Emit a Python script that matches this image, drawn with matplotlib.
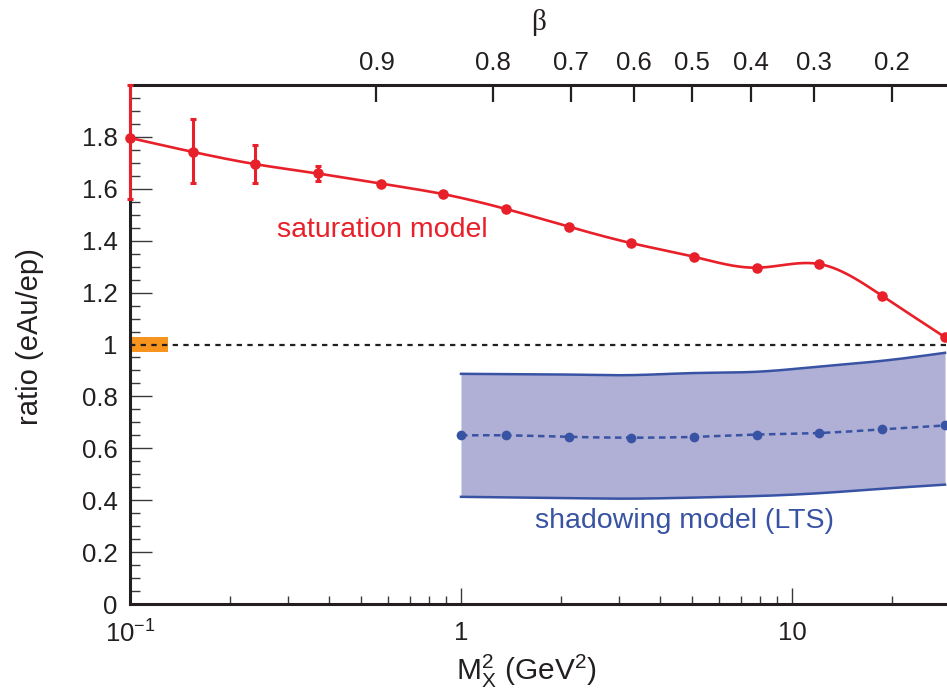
import numpy as np
import matplotlib
matplotlib.use("Agg")
import matplotlib.pyplot as plt
from matplotlib.ticker import FixedLocator, FixedFormatter, MultipleLocator, NullLocator

plt.rcParams['font.family'] = ['Liberation Sans', 'DejaVu Sans']
plt.rcParams['mathtext.fontset'] = 'custom'
plt.rcParams['mathtext.rm'] = 'Liberation Sans'
plt.rcParams['mathtext.it'] = 'Liberation Sans:italic'

# ---- data -------------------------------------------------------------
# saturation model: eAu/ep ratio vs diffractive mass M_X^2 (GeV^2)
sat_mx2 = [0.1, 0.155, 0.239, 0.369, 0.573, 0.880, 1.37, 2.12, 3.26,
           5.06, 7.84, 12.1, 18.7, 29.0]
sat_ratio = [1.796, 1.742, 1.695, 1.659, 1.620, 1.580, 1.522, 1.454, 1.391,
             1.338, 1.296, 1.310, 1.188, 1.028]
# statistical errors on the lowest-mass points
err_mx2 = [0.1, 0.155, 0.239, 0.369]
err_ratio = [1.796, 1.742, 1.695, 1.659]
err_lo = [0.234, 0.120, 0.073, 0.028]
err_hi = [0.204, 0.126, 0.074, 0.027]

# shadowing model (LTS): central values and band
lts_mx2 = [1.0, 1.37, 2.12, 3.26, 5.06, 7.84, 12.1, 18.7, 29.0]
lts_ratio = [0.650, 0.650, 0.644, 0.641, 0.644, 0.653, 0.659, 0.673, 0.688]
lts_upper = [0.887, 0.886, 0.884, 0.882, 0.890, 0.895, 0.915, 0.937, 0.968]
lts_lower = [0.413, 0.411, 0.408, 0.406, 0.410, 0.416, 0.427, 0.444, 0.460]

# normalisation uncertainty box at ratio = 1
norm_x = [0.1, 0.13]
norm_y = [0.97, 1.03]

# top axis: beta = Q^2 / (Q^2 + M_X^2)
Q2 = 5.0
beta_ticks = [0.9, 0.8, 0.7, 0.6, 0.5, 0.4, 0.3, 0.2]
beta_labels = ['0.9', '0.8', '0.7', '0.6', '0.5', '0.4', '0.3', '0.2']

x_ticks = [0.1, 1, 10]
x_ticklabels = [r'$10^{-1}$', '1', '10']
y_ticks = [0, 0.2, 0.4, 0.6, 0.8, 1.0, 1.2, 1.4, 1.6, 1.8]
y_ticklabels = ['0', '0.2', '0.4', '0.6', '0.8', '1', '1.2', '1.4', '1.6', '1.8']

RED = '#e8202a'
BLUE = '#3953a4'
BAND = '#b0afd5'
ORANGE = '#f7941d'
INK = '#231f20'


def smooth(x, y, n=400):
    """Natural cubic spline through (log10 x, y)."""
    t = np.log10(np.asarray(x, float))
    y = np.asarray(y, float)
    k = len(t)
    h = np.diff(t)
    A = np.zeros((k, k))
    r = np.zeros(k)
    A[0, 0] = A[-1, -1] = 1.0
    for i in range(1, k - 1):
        A[i, i - 1] = h[i - 1]
        A[i, i] = 2 * (h[i - 1] + h[i])
        A[i, i + 1] = h[i]
        r[i] = 3 * ((y[i + 1] - y[i]) / h[i] - (y[i] - y[i - 1]) / h[i - 1])
    c = np.linalg.solve(A, r)
    b = (y[1:] - y[:-1]) / h - h * (2 * c[:-1] + c[1:]) / 3
    d = (c[1:] - c[:-1]) / (3 * h)
    tt = np.linspace(t[0], t[-1], n)
    idx = np.clip(np.searchsorted(t, tt) - 1, 0, k - 2)
    dt = tt - t[idx]
    yy = y[idx] + b[idx] * dt + c[idx] * dt ** 2 + d[idx] * dt ** 3
    return 10 ** tt, yy


W, H = 947, 693
fig = plt.figure(figsize=(W / 100, H / 100), dpi=100)
ax = fig.add_axes([130 / W, (H - 604) / H, (947 - 130) / W, (604 - 85) / H])
ax.set_xscale('log')
ax.set_xlim(0.1, 29.4)
ax.set_ylim(0, 2)

# shadowing band
bx, bu = smooth(lts_mx2, lts_upper)
_, bl = smooth(lts_mx2, lts_lower)
ax.fill_between(bx, bl, bu, color=BAND, lw=0, zorder=1)
ax.plot(bx, bu, color=BLUE, lw=1.8, zorder=2)
ax.plot(bx, bl, color=BLUE, lw=1.8, zorder=2)
cx, cy = smooth(lts_mx2, lts_ratio)
ax.plot(cx, cy, color=BLUE, lw=1.8, ls=(0, (2.6, 1.8)), zorder=3)
ax.plot(lts_mx2, lts_ratio, 'o', color=BLUE, ms=7, mec='none', zorder=4,
        clip_on=False)

# normalisation box and unity line
ax.fill_between(norm_x, norm_y[0], norm_y[1], color=ORANGE, lw=0, zorder=2)
ax.axhline(1.0, color=INK, lw=1.6, ls=(0, (2.4, 2.4)), zorder=3)

# saturation model
sx, sy = smooth(sat_mx2, sat_ratio)
ax.plot(sx, sy, color=RED, lw=1.9, zorder=5)
ax.plot(sat_mx2, sat_ratio, 'o', color=RED, ms=7.6, mec='none', zorder=6,
        clip_on=False)
ax.errorbar(err_mx2, err_ratio, yerr=[err_lo, err_hi], fmt='none',
            ecolor=RED, elinewidth=2.2, capsize=2.2, capthick=2.2,
            zorder=6, clip_on=False)

# axes styling
for side in ('left', 'bottom', 'top'):
    ax.spines[side].set_linewidth(2.2)
    ax.spines[side].set_color(INK)
ax.spines['right'].set_visible(False)

ax.xaxis.set_major_locator(FixedLocator(x_ticks))
ax.xaxis.set_major_formatter(FixedFormatter(x_ticklabels))
minor_x = [m * 10.0 ** e for e in (-1, 0, 1) for m in range(2, 10)]
ax.xaxis.set_minor_locator(FixedLocator(minor_x))
ax.yaxis.set_major_locator(FixedLocator(y_ticks))
ax.yaxis.set_major_formatter(FixedFormatter(y_ticklabels))
ax.yaxis.set_minor_locator(MultipleLocator(0.05))

ax.tick_params(axis='both', which='both', direction='in', top=False,
               right=False, color='#3a3a3a', width=1.0, labelcolor=INK,
               labelsize=18.5)
ax.tick_params(axis='x', which='major', length=11.5, pad=12)
ax.tick_params(axis='x', which='minor', length=5.8)
ax.tick_params(axis='y', which='major', length=16, pad=9)
ax.tick_params(axis='y', which='minor', length=7.5)

# top beta axis
ax2 = ax.twiny()
ax2.set_xscale('log')
ax2.set_xlim(ax.get_xlim())
ax2.xaxis.set_major_locator(FixedLocator([Q2 * (1 / b - 1) for b in beta_ticks]))
ax2.xaxis.set_major_formatter(FixedFormatter(beta_labels))
ax2.xaxis.set_minor_locator(NullLocator())
ax2.tick_params(axis='x', which='major', direction='in', length=12,
                width=1.6, color=INK, labelcolor=INK, labelsize=18.5, pad=7)
for s in ax2.spines.values():
    s.set_visible(False)

# labels
fig.text(539 / W, 1 - 22 / H, 'β', fontsize=21, color=INK,
         family=['Liberation Serif', 'DejaVu Serif'], ha='center', va='center')
fig.text(526 / W, 1 - 671 / H, r'$\mathrm{M}_\mathrm{X}^2$ (GeV$^2$)',
         fontsize=21.5, color=INK, ha='center', va='center')
fig.text(30 / W, 1 - 337 / H, 'ratio (eAu/ep)', fontsize=21, color=INK,
         rotation=90, ha='center', va='center')
fig.text(382 / W, 1 - 230 / H, 'saturation model', fontsize=20.5, color=RED,
         ha='center', va='center')
fig.text(684 / W, 1 - 521 / H, 'shadowing model (LTS)', fontsize=20.5,
         color=BLUE, ha='center', va='center')

fig.savefig('out.png', dpi=100)
